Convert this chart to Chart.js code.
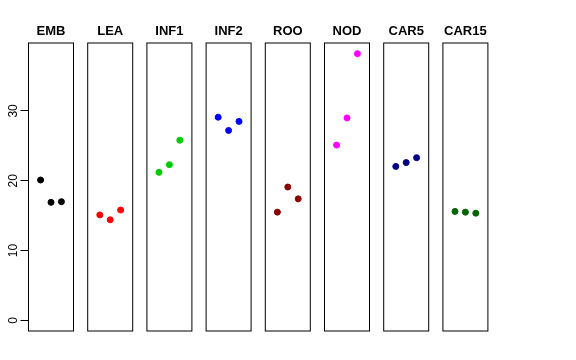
<!DOCTYPE html>
<html>
<head>
<meta charset="utf-8">
<script src="https://cdn.jsdelivr.net/npm/chart.js@4/dist/chart.umd.min.js"></script>
<style>
  body { margin: 0; background: #fff; }
  #wrap { position: relative; width: 576px; height: 360px; background: #fff; }
  #wrap canvas { position: absolute; top: 0; }
</style>
</head>
<body>
<div id="wrap"></div>
<script>
// groups and their three measurements
var categories = ['EMB', 'LEA', 'INF1', 'INF2', 'ROO', 'NOD', 'CAR5', 'CAR15'];
var replicate = [1, 2, 3];
var emb = [20.1, 16.9, 17.0];
var lea = [15.1, 14.4, 15.8];
var inf1 = [21.2, 22.3, 25.8];
var inf2 = [29.1, 27.2, 28.5];
var roo = [15.5, 19.1, 17.4];
var nod = [25.1, 29.0, 38.2];
var car5 = [22.05, 22.6, 23.3];
var car15 = [15.6, 15.5, 15.35];
var yTicks = [0, 10, 20, 30];

var series = [emb, lea, inf1, inf2, roo, nod, car5, car15];
var colors = ['#000000', '#FF0000', '#00CD00', '#0000FF', '#8B0000', '#FF00FF', '#000080', '#006400'];

// R-like axis limits: 4% padding
var yMin = -1.53, yMax = 39.73;
var xMin = -0.16, xMax = 4.16;

var boxPlugin = {
    id: 'box',
    afterDraw: function (chart) {
        var a = chart.chartArea;
        var ctx = chart.ctx;
        ctx.save();
        ctx.strokeStyle = '#000';
        ctx.lineWidth = 1;
        ctx.strokeRect(a.left, a.top, a.right - a.left, a.bottom - a.top);
        ctx.restore();
    }
};

// rotated tick labels like R's default axis
var rotLabels = {
    id: 'rotLabels',
    afterDraw: function (chart) {
        if (!chart.options.plugins.rotLabels.on) return;
        var y = chart.scales.y;
        var ctx = chart.ctx;
        ctx.save();
        ctx.fillStyle = '#000';
        ctx.font = '12px "Liberation Sans", Arial, sans-serif';
        ctx.textAlign = 'center';
        ctx.textBaseline = 'alphabetic';
        yTicks.forEach(function (t) {
            ctx.save();
            ctx.translate(17, y.getPixelForValue(t));
            ctx.rotate(-Math.PI / 2);
            ctx.fillText(String(t), 0, 0);
            ctx.restore();
        });
        ctx.restore();
    }
};

var wrap = document.getElementById('wrap');
var plotTop = 43, plotBottom = 331;
var boxW = 45, step = 59.2, firstLeft = 28.5;
var titleTop = 23.5;

categories.forEach(function (name, i) {
    var boxLeft = firstLeft + step * i;
    var first = i === 0;
    var canvasLeft = first ? 0 : Math.round(boxLeft) - 5;
    var padLeft = first ? 0 : boxLeft - canvasLeft;
    var width = first ? Math.ceil(boxLeft + boxW + 5) : 55;
    var innerLeft = first ? boxLeft : padLeft;
    var padRight = width - innerLeft - boxW;

    var cv = document.createElement('canvas');
    cv.width = width;
    cv.height = 360;
    cv.style.left = canvasLeft + 'px';
    cv.style.width = width + 'px';
    cv.style.height = '360px';
    wrap.appendChild(cv);

    new Chart(cv, {
        type: 'scatter',
        data: {
            datasets: [{
                data: replicate.map(function (x, k) { return {x: x, y: series[i][k]}; }),
                backgroundColor: colors[i],
                borderColor: colors[i],
                pointRadius: 3,
                pointHoverRadius: 3
            }]
        },
        options: {
            responsive: false,
            animation: false,
            devicePixelRatio: 1,
            layout: {padding: {left: padLeft, right: padRight, top: 0, bottom: 360 - plotBottom}},
            plugins: {
                legend: {display: false},
                tooltip: {enabled: false},
                rotLabels: {on: first},
                title: {
                    display: true,
                    fullSize: false,
                    text: name,
                    color: '#000',
                    font: {family: '"Liberation Sans", Arial, sans-serif', size: 13, weight: 'bold', lineHeight: 1.2},
                    padding: {top: titleTop, bottom: plotTop - titleTop - 15.6}
                }
            },
            scales: {
                x: {type: 'linear', min: xMin, max: xMax, display: false},
                y: {
                    type: 'linear', min: yMin, max: yMax,
                    display: first,
                    afterBuildTicks: function (s) { s.ticks = yTicks.map(function (v) { return {value: v}; }); },
                    afterFit: function (s) { if (first) s.width = boxLeft; },
                    ticks: {display: false},
                    border: {display: false},
                    grid: {drawOnChartArea: false, drawTicks: true, tickLength: 8, color: '#000', tickColor: '#000'}
                }
            }
        },
        plugins: [boxPlugin, rotLabels]
    });
});
</script>
</body>
</html>
